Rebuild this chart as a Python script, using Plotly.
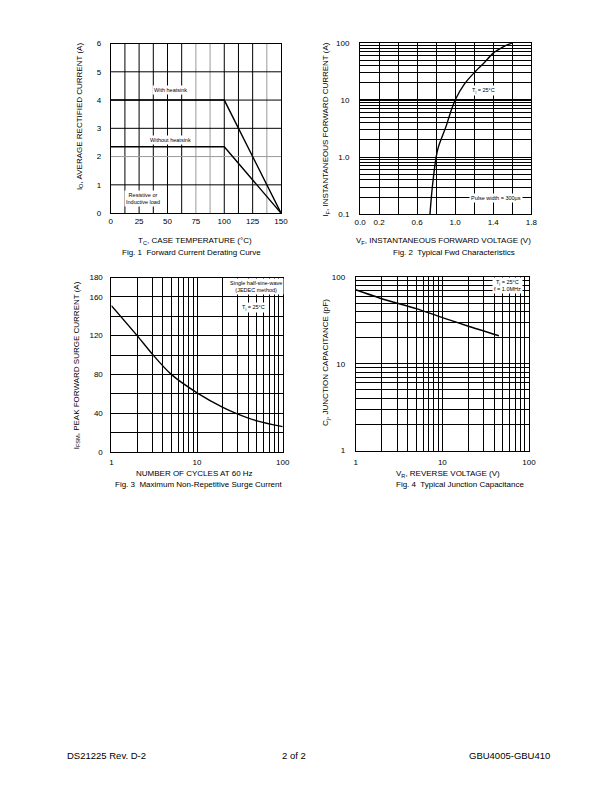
import plotly.graph_objects as go

# ---------------- data ----------------
# Fig. 1 Forward current derating curve
temp_c = [0, 100, 150]
io_with_heatsink = [4.0, 4.0, 0.0]
io_without_heatsink = [2.35, 2.35, 0.0]
fig1_xticks = [0, 12.5, 25, 37.5, 50, 62.5, 75, 87.5, 100, 112.5, 125, 137.5, 150]
fig1_xlabels = ["0", "", "25", "", "50", "", "75", "", "100", "", "125", "", "150"]
fig1_yticks = [0, 1, 2, 3, 4, 5, 6]

# Fig. 2 Typical forward characteristics
vf = [0.735, 0.76, 0.80, 0.823, 0.908, 0.95, 1.0, 1.1, 1.2, 1.3, 1.4, 1.5, 1.6]
if_a = [0.1, 0.3, 1.0, 1.5, 3.6, 6.0, 10, 19.3, 30, 44, 66, 84, 100]
fig2_xticks = [0, 0.2, 0.4, 0.6, 0.8, 1.0, 1.2, 1.4, 1.6, 1.8]
fig2_xlabels = ["0.0", "0.2", "", "0.6", "", "1.0", "", "1.4", "", "1.8"]
fig2_yticks = [m * d for d in (0.1, 1, 10) for m in range(1, 10)] + [100]
fig2_ylabels = ["0.1" if v == 0.1 else "1.0" if v == 1 else "10" if v == 10 else "100" if v == 100 else "" for v in fig2_yticks]

# Fig. 3 Maximum non-repetitive surge current
cycles = [1, 2, 3, 5, 10, 20, 30, 50, 100]
ifsm_a = [151, 120, 101, 80, 61, 46, 39, 32, 26]
fig3_xticks = [m * d for d in (1, 10) for m in range(1, 10)] + [100]
fig3_xlabels = [str(v) if v in (1, 10, 100) else "" for v in fig3_xticks]
fig3_yticks = [0, 20, 40, 60, 80, 100, 120, 140, 160, 180]
fig3_ylabels = ["0", "", "40", "", "80", "", "120", "", "160", "180"]

# Fig. 4 Typical junction capacitance
vr = [1, 2, 5, 10, 20, 45]
cj_pf = [71, 56, 43, 34, 27, 21]
fig4_ticks = [m * d for d in (1, 10) for m in range(1, 10)] + [100]
fig4_labels = [str(v) if v in (1, 10, 100) else "" for v in fig4_ticks]

# ---------------- layout helpers ----------------
W, H = 612, 792
FONT = "Liberation Sans, Arial, sans-serif"


def px(x):
    return x / W


def py(y):
    return 1 - y / H


def dom_x(a, b):
    return [px(a), px(b)]


def dom_y(top, bottom):
    return [py(bottom), py(top)]


axis_common = dict(
    showline=True, mirror=True, linecolor="black", linewidth=1,
    zeroline=False, ticks="", tickfont=dict(family=FONT, size=8, color="black"),
    gridcolor="black", gridwidth=1, fixedrange=True,
)

fig = go.Figure()
line_style = dict(color="black", width=1.4)
fig.add_trace(go.Scatter(x=temp_c, y=io_with_heatsink, mode="lines", line=line_style, xaxis="x", yaxis="y"))
fig.add_trace(go.Scatter(x=temp_c, y=io_without_heatsink, mode="lines", line=line_style, xaxis="x", yaxis="y"))
fig.add_trace(go.Scatter(x=vf, y=if_a, mode="lines", line=dict(shape="spline", smoothing=0.8, **line_style), xaxis="x2", yaxis="y2"))
fig.add_trace(go.Scatter(x=cycles, y=ifsm_a, mode="lines", line=dict(shape="spline", smoothing=0.8, **line_style), xaxis="x3", yaxis="y3"))
fig.add_trace(go.Scatter(x=vr, y=cj_pf, mode="lines", line=dict(shape="spline", smoothing=0.6, **line_style), xaxis="x4", yaxis="y4"))

layout = dict(
    width=W, height=H, margin=dict(l=0, r=0, t=0, b=0),
    paper_bgcolor="white", plot_bgcolor="white", showlegend=False,
    font=dict(family=FONT, size=8, color="black"),
    xaxis=dict(domain=dom_x(107, 281), range=[0, 150], anchor="y", tickvals=fig1_xticks,
               ticktext=fig1_xlabels, showgrid=False, ticklabelstandoff=0, **axis_common),
    yaxis=dict(domain=dom_y(40, 211.5), range=[0, 6], anchor="x", tickvals=fig1_yticks,
               showgrid=False, ticklabelstandoff=7, **axis_common),
    xaxis2=dict(domain=dom_x(361.7, 536.7), range=[0, 1.8], anchor="y2", tickvals=fig2_xticks,
                ticktext=fig2_xlabels, ticklabelstandoff=0, **axis_common),
    yaxis2=dict(domain=dom_y(39.3, 212.7), type="log", range=[-1, 2], anchor="x2", tickvals=fig2_yticks,
                ticktext=fig2_ylabels, ticklabelstandoff=8, **axis_common),
    xaxis3=dict(domain=dom_x(107.7, 282.7), type="log", range=[0, 2], anchor="y3", tickvals=fig3_xticks,
                ticktext=fig3_xlabels, ticklabelstandoff=3, **axis_common),
    yaxis3=dict(domain=dom_y(276.7, 453), range=[0, 180], anchor="x3", tickvals=fig3_yticks,
                ticktext=fig3_ylabels, ticklabelstandoff=6, **axis_common),
    xaxis4=dict(domain=dom_x(357.3, 534.3), type="log", range=[0, 2], anchor="y4", tickvals=fig4_ticks,
                ticktext=fig4_labels, ticklabelstandoff=4, **axis_common),
    yaxis4=dict(domain=dom_y(276, 451.7), type="log", range=[0, 2], anchor="x4", tickvals=fig4_ticks,
                ticktext=fig4_labels, ticklabelstandoff=8, **axis_common),
)
fig.update_layout(**layout)

# Fig. 1 grid as shapes (some lines appear grey in the scan)
grey_v = {75, 87.5, 137.5}
grey_h = {2}
for xv in fig1_xticks[1:-1]:
    fig.add_shape(type="line", xref="x", yref="y domain", x0=xv, x1=xv, y0=0, y1=1,
                  line=dict(color="#9a9a9a" if xv in grey_v else "black", width=1), layer="below")
for yv in fig1_yticks[1:-1]:
    fig.add_shape(type="line", xref="x domain", yref="y", x0=0, x1=1, y0=yv, y1=yv,
                  line=dict(color="#9a9a9a" if yv in grey_h else "black", width=1), layer="below")
# Fig. 2: heavier decade line at 10 A
fig.add_shape(type="line", xref="x2 domain", yref="y2 domain", x0=0, x1=1, y0=2 / 3, y1=2 / 3,
              line=dict(color="black", width=2.2), layer="below")

annotations = []


def txt(x, y, text, size=8, angle=0, xanchor="center", bg=None):
    a = dict(x=px(x), y=py(y), xref="paper", yref="paper", text=text, showarrow=False,
             font=dict(family=FONT, size=size, color="black"), textangle=angle,
             xanchor=xanchor, yanchor="middle")
    if bg:
        a.update(bgcolor=bg, borderpad=1)
    annotations.append(a)


# axis titles and captions
txt(75, 113, "I<sub>O</sub>, AVERAGE RECTIFIED CURRENT (A)", angle=-90)
txt(193, 240, "T<sub>C</sub>, CASE TEMPERATURE (°C)")
txt(190, 251, "Fig. 1\u00a0 Forward Current Derating Curve")

txt(327, 127, "I<sub>F</sub>, INSTANTANEOUS FORWARD CURRENT (A)", angle=-90)
txt(447, 240, "V<sub>F</sub>, INSTANTANEOUS FORWARD VOLTAGE (V)")
txt(458, 251, "Fig. 2\u00a0 Typical Fwd Characteristics")

txt(72, 365, "I<sub>FSM</sub>, PEAK FORWARD SURGE CURRENT (A)", angle=-90)
txt(193, 475, "NUMBER OF CYCLES AT 60 Hz")
txt(197, 486, "Fig. 3\u00a0 Maximum Non-Repetitive Surge Current")

txt(327, 363, "C<sub>j</sub>, JUNCTION CAPACITANCE (pF)", angle=-90)
txt(452, 475, "V<sub>R</sub>, REVERSE VOLTAGE (V)")
txt(464, 486, "Fig. 4\u00a0 Typical Junction Capacitance")

# in-plot notes
txt(168, 87.3, "With heatsink", size=5.5, bg="white")
txt(168, 137.3, "Without heatsink", size=5.5, bg="white")
txt(140, 196.7, "Resistive or<br>Inductive load", size=5.5, bg="white")
txt(488, 87.3, "T<sub>j</sub> = 25°C", size=5.5, bg="white")
txt(501, 196.7, "Pulse width = 300µs", size=5.5, bg="white")
txt(255, 285.5, "Single half-sine-wave<br>(JEDEC method)", size=5.5, bg="white")
txt(253, 306.7, "T<sub>j</sub> = 25°C", size=5.5, bg="white")
txt(512.7, 284.7, "T<sub>j</sub> = 25°C<br>f = 1.0MHz", size=5.5, bg="white")

# footer
txt(60, 760, "DS21225 Rev. D-2", size=9.5, xanchor="left")
txt(294, 760, "2 of 2", size=9.5)
txt(558, 760, "GBU4005-GBU410", size=9.5, xanchor="right")

fig.update_layout(annotations=annotations)

fig.write_html("out.html", config={"displayModeBar": False, "staticPlot": True},
               post_script="document.body.style.margin='0';")
